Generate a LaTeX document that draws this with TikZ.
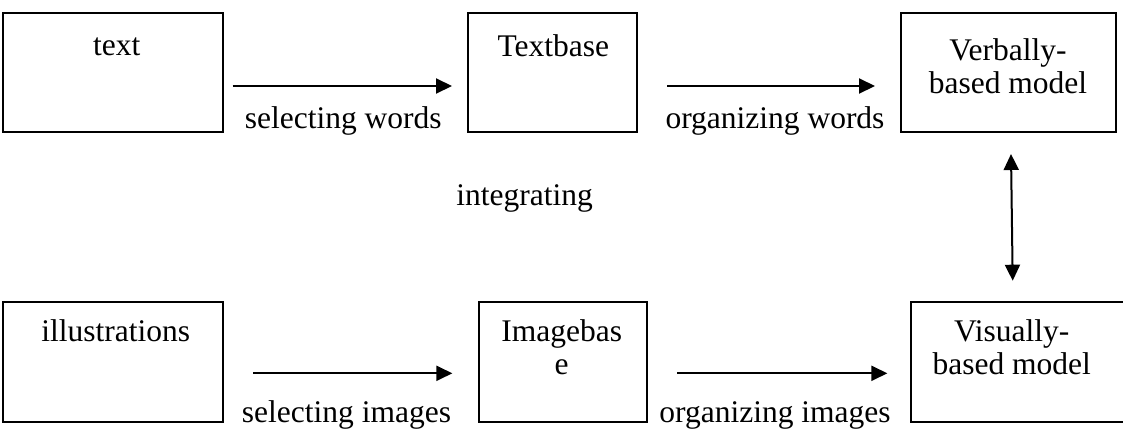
\documentclass[tikz,border=0pt]{standalone}
\usepackage{fontspec}
\setmainfont{Liberation Serif}
\usetikzlibrary{arrows.meta,calc}
\begin{document}
\begin{tikzpicture}[x=1pt,y=-1pt,
  box/.style={draw,line width=2pt,inner sep=0pt,minimum height=#1},
  box/.default=118.4pt,
  lbl/.style={anchor=base,inner sep=0pt,font=\fontsize{31.5}{33}\selectfont},
  conn/.style={line width=2pt,-{Triangle[length=16pt,width=15pt]}},
  dconn/.style={line width=2pt,{Triangle[length=16pt,width=15pt]}-{Triangle[length=16pt,width=15pt]}}]
\useasboundingbox (0,0) rectangle (1123,432);
% boxes
\node[box,minimum width=219.4pt] (text) at (113,72.5) {};
\node[box,minimum width=169pt] (tb) at (552.8,72.5) {};
\node[box,minimum width=215pt] (vm) at (1008.2,72.5) {};
\node[box=120pt,minimum width=219.4pt] (ill) at (113,361.7) {};
\node[box=120pt,minimum width=168.3pt] (ib) at (563.2,361.7) {};
\node[box=120pt,minimum width=214.3pt] (vis) at (1017.9,361.7) {};
% box texts
\node[lbl] (t1) at (116.7,55) {text};
\node[lbl] (t2) at (553.3,56) {Textbase};
\node[lbl] (t3) at (1008,60) {\begin{tabular}[t]{@{}c@{}}Verbally-\\based model\end{tabular}};
\node[lbl] (t4) at (115.8,341.7) {illustrations};
\node[lbl] (t5) at (561.7,341.7) {\begin{tabular}[t]{@{}c@{}}Imagebas\\e\end{tabular}};
\node[lbl] (t6) at (1011.7,341.7) {\begin{tabular}[t]{@{}c@{}}Visually-\\based model\end{tabular}};
% connectors
\draw[conn] ($(text.east)+(9,13.5)$) -- ($(tb.west)+(-15.3,13.5)$);
\draw[conn] ($(tb.east)+(28.7,13.5)$) -- ($(vm.west)+(-24.7,13.5)$);
\draw[conn] ($(ill.east)+(29.6,11.6)$) -- ($(ib.west)+(-25.7,11.6)$);
\draw[conn] ($(ib.east)+(28.7,11.6)$) -- ($(vis.west)+(-22.4,11.6)$);
\draw[dconn] ($(vm.south)+(2.8,21.3)$) -- ($(vis.north)+(-5.2,-20)$);
% connector labels
\node[lbl] (l1) at (343.3,128.3) {selecting words};
\node[lbl] (l2) at (775,128.3) {organizing words};
\node[lbl] (l3) at (524.7,205) {integrating};
\node[lbl] (l4) at (346.5,422) {selecting images};
\node[lbl] (l5) at (775,422) {organizing images};
\end{tikzpicture}
\end{document}
